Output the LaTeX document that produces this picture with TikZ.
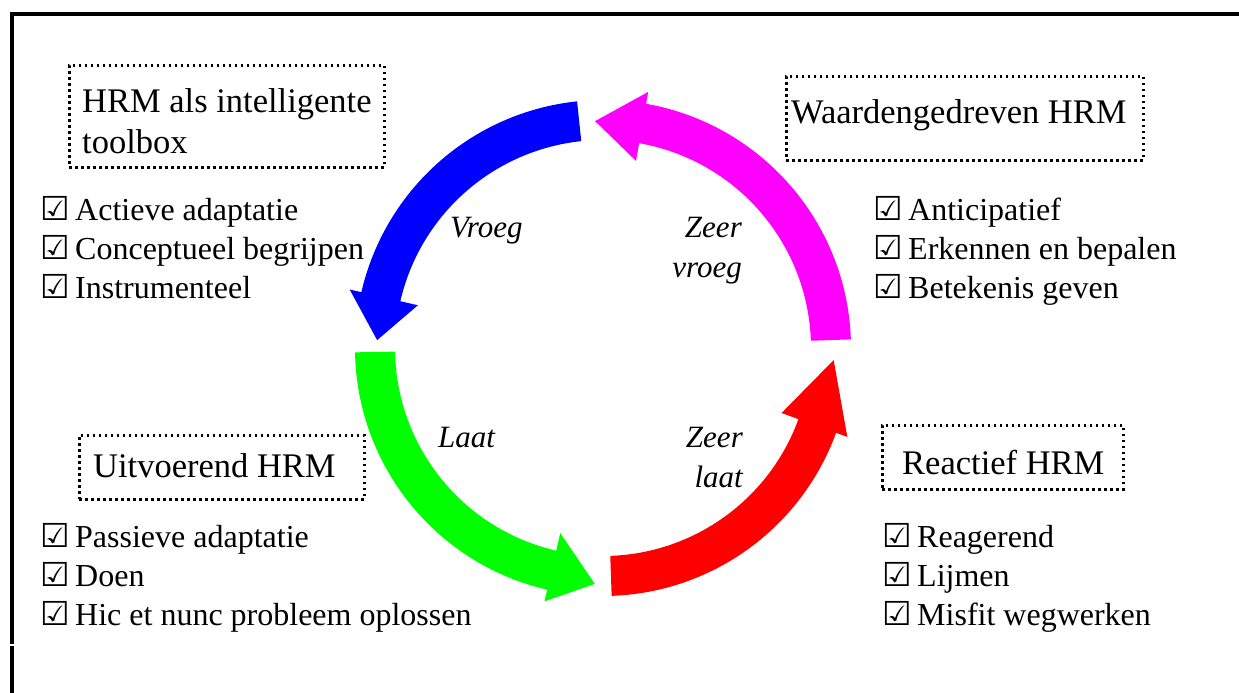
\documentclass[tikz,border=0pt]{standalone}
\usepackage{fontspec}
\setmainfont{Liberation Serif}
\newfontfamily\symfont{DejaVu Sans Bold}
\definecolor{ringblue}{RGB}{0,0,255}
\definecolor{ringmagenta}{RGB}{255,0,255}
\definecolor{ringgreen}{RGB}{0,255,0}
\definecolor{ringred}{RGB}{255,0,0}
% ballot box glyph followed by a fixed gap before the item text
\newcommand\chk{\makebox[35pt][l]{\symfont\fontsize{33}{33}\selectfont ☑}}
% thick curved arrow on the ring: colour, tail angle, head base angle, tip angle, tip radius
\newcommand\ringarrow[5]{%
  \fill[#1] (#2:248pt) arc[start angle=#2, end angle=#3, radius=248pt]
    -- (#3:260pt) -- (#4:#5pt) -- (#3:190pt) -- (#3:208pt)
    arc[start angle=#3, end angle=#2, radius=208pt] -- cycle;}
\begin{document}
\begin{tikzpicture}[x=1pt,y=-1pt,
  frame/.style={line width=4pt},
  titlebox/.style={draw, line width=2.8pt, dash pattern=on 2.8pt off 3.2pt,
    inner sep=0pt, anchor=north west},
  titletext/.style={inner sep=0pt, anchor=base west, align=left,
    font=\fontsize{34.5}{41}\selectfont},
  listtext/.style={inner sep=0pt, anchor=base west, align=left,
    font=\fontsize{32}{39}\selectfont},
  phase/.style={inner sep=0pt, font=\fontsize{31}{39.5}\selectfont\itshape},
]
\useasboundingbox (0,0) rectangle (1239,693);

% frame: top and left rules
\draw[frame] (1239,14) -- (12,14) -- (12,644);
\draw[frame] (12,646) -- (12,693);

% the cycle of four arrows
\begin{scope}[shift={(603,348)}, x=1pt, y=1pt]
  \ringarrow{ringblue}{96}{167}{178}{226}
  \ringarrow{ringmagenta}{2}{80}{92}{227}
  \ringarrow{ringgreen}{181}{257}{268}{236}
  \ringarrow{ringred}{272}{340}{357}{231}
\end{scope}

% phase labels along the arrows (multi-line nodes sit on their last baseline)
\node[phase, anchor=base west] (vroeg) at (450,237) {Vroeg};
\node[phase, anchor=base east, align=right] (zvroeg) at (742,277) {Zeer\\vroeg};
\node[phase, anchor=base west] (laat) at (438,447) {Laat};
\node[phase, anchor=base east, align=right] (zlaat) at (743,487) {Zeer\\laat};

% dotted title boxes
\node[titlebox, minimum width=315pt, minimum height=102pt] (box1) at (68,64) {};
\node[titletext] (title1) at (82,153) {HRM als intelligente\\toolbox};
\node[titlebox, minimum width=357pt, minimum height=84pt] (box2) at (785,75) {};
\node[titletext] (title2) at (791,123) {Waardengedreven HRM};
\node[titlebox, minimum width=285pt, minimum height=64pt] (box3) at (78,434) {};
\node[titletext] (title3) at (93,477) {Uitvoerend HRM};
\node[titlebox, minimum width=241pt, minimum height=64pt] (box4) at (881,424) {};
\node[titletext] (title4) at (902,474) {Reactief HRM};

% checklists
\node[listtext] (list1) at (40,298)
  {\chk Actieve adaptatie\\\chk Conceptueel begrijpen\\\chk Instrumenteel};
\node[listtext] (list2) at (873,298)
  {\chk Anticipatief\\\chk Erkennen en bepalen\\\chk Betekenis geven};
\node[listtext] (list3) at (40,625)
  {\chk Passieve adaptatie\\\chk Doen\\\chk Hic et nunc probleem oplossen};
\node[listtext] (list4) at (882,625)
  {\chk Reagerend\\\chk Lijmen\\\chk Misfit wegwerken};
\end{tikzpicture}
\end{document}
